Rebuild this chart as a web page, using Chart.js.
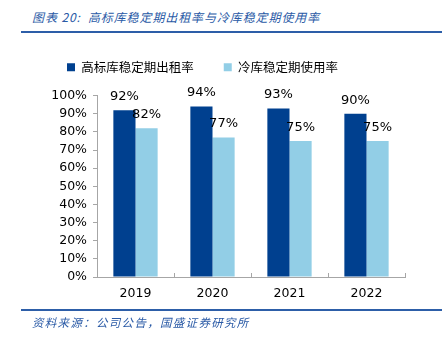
<!DOCTYPE html>
<html>
<head>
<meta charset="utf-8">
<script src="https://cdn.jsdelivr.net/npm/chart.js@4/dist/chart.umd.min.js"></script>
<style>
  html, body { margin: 0; padding: 0; background: #fff; }
  #wrap { position: relative; width: 442px; height: 338px; overflow: hidden; }
  #title { position: absolute; left: 32px; top: 8px; font-family: "Noto Sans CJK SC", "DejaVu Sans", sans-serif; font-style: italic; font-size: 12px; letter-spacing: 0.9px; color: #2a5aa6; white-space: nowrap; }
  #topline { position: absolute; left: 21px; top: 31px; width: 421px; height: 2px; background: #2d5ea8; }
  #botline { position: absolute; left: 21px; top: 309px; width: 421px; height: 2px; background: #2d5ea8; }
  #source { position: absolute; left: 32px; top: 314px; font-family: "Noto Sans CJK SC", sans-serif; font-style: italic; font-size: 11.5px; letter-spacing: 1.3px; color: #2a5aa6; white-space: nowrap; }
  #c { position: absolute; left: 0; top: 0; }
</style>
</head>
<body>
<div id="wrap">
  <div id="title">图表 20:&nbsp; 高标库稳定期出租率与冷库稳定期使用率</div>
  <div id="topline"></div>
  <canvas id="c" width="442" height="338"></canvas>
  <div id="botline"></div>
  <div id="source">资料来源：公司公告，国盛证券研究所</div>
</div>
<script>
const categories = ["2019", "2020", "2021", "2022"];
const seriesNames = ["高标库稳定期出租率", "冷库稳定期使用率"];
const highStandardRate = [92, 94, 93, 90];
const coldStorageRate = [82, 77, 75, 75];
const yTicks = [0, 10, 20, 30, 40, 50, 60, 70, 80, 90, 100];

const labelPlugin = {
  id: 'barLabels',
  afterDatasetsDraw(chart) {
    const ctx = chart.ctx;
    ctx.save();
    ctx.font = '13px "DejaVu Sans", sans-serif';
    ctx.fillStyle = '#000';
    ctx.textAlign = 'center';
    ctx.textBaseline = 'bottom';
    chart.data.datasets.forEach((ds, di) => {
      const meta = chart.getDatasetMeta(di);
      meta.data.forEach((bar, i) => {
        ctx.fillText(ds.data[i] + '%', bar.x, bar.y - 7);
      });
    });
    ctx.restore();
  }
};

const xTickPlugin = {
  id: 'xTicksUp',
  afterDraw(chart) {
    const xs = chart.scales.x;
    const ctx = chart.ctx;
    const y = chart.chartArea.bottom;
    ctx.save();
    ctx.strokeStyle = '#a6a6a6';
    ctx.lineWidth = 1;
    ctx.beginPath();
    for (let i = 0; i <= categories.length; i++) {
      const x = Math.round(xs.getPixelForValue(i - 0.5)) + 0.5;
      ctx.moveTo(x, y);
      ctx.lineTo(x, y - 4);
    }
    ctx.stroke();
    ctx.restore();
  }
};

new Chart(document.getElementById('c'), {
  type: 'bar',
  data: {
    labels: categories,
    datasets: [
      { label: seriesNames[0], data: highStandardRate, backgroundColor: '#00408f', borderWidth: 0 },
      { label: seriesNames[1], data: coldStorageRate, backgroundColor: '#92cee6', borderWidth: 0 }
    ]
  },
  options: {
    responsive: false,
    animation: false,
    devicePixelRatio: 1,
    layout: { padding: { left: 0, right: 37, top: 31, bottom: 28 } },
    datasets: { bar: { categoryPercentage: 0.575, barPercentage: 1.0 } },
    plugins: {
      legend: {
        position: 'top',
        labels: {
          boxWidth: 8, boxHeight: 8, padding: 30,
          font: { family: '"Noto Sans CJK SC", sans-serif', size: 12.5 },
          color: '#000'
        }
      },
      subtitle: {
        display: true, text: '', position: 'top', weight: 500,
        font: { size: 1 }, padding: { top: 0, bottom: 11 }
      },
      tooltip: { enabled: false }
    },
    scales: {
      x: {
        grid: { display: false, drawTicks: false },
        border: { display: true, color: '#a6a6a6' },
        ticks: { color: '#000', font: { family: '"DejaVu Sans", sans-serif', size: 12.5 }, padding: 9 }
      },
      y: {
        min: 0, max: 100,
        afterFit(scale) { scale.width = 97; },
        afterBuildTicks(scale) { scale.ticks = yTicks.map(v => ({ value: v })); },
        grid: { drawOnChartArea: false, drawTicks: true, tickLength: 4, color: '#a6a6a6' },
        border: { display: true, color: '#a6a6a6' },
        ticks: {
          autoSkip: false,
          color: '#000', padding: 6,
          font: { family: '"DejaVu Sans", sans-serif', size: 12.5 },
          callback: v => v + '%'
        }
      }
    }
  },
  plugins: [labelPlugin, xTickPlugin]
});
</script>
</body>
</html>
